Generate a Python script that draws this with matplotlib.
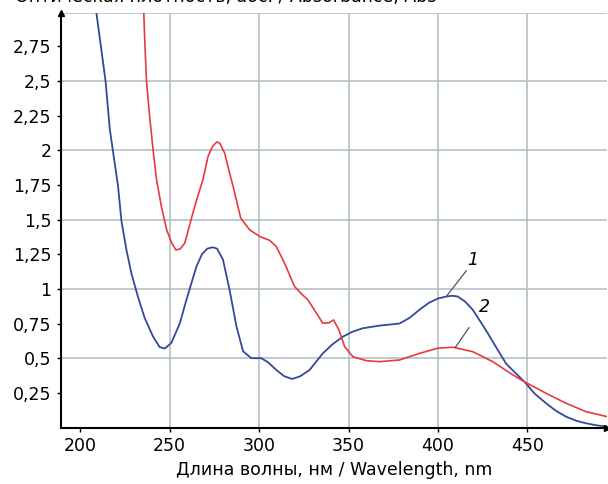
import matplotlib
matplotlib.use("Agg")
import matplotlib.pyplot as plt
from matplotlib.ticker import FuncFormatter

plt.rcParams['font.family'] = ['DejaVu Sans']
plt.rcParams['font.size'] = 12

# Curve 1 (blue)
wl_1 = [208, 209, 211.5, 214.1, 216.5, 218.3, 221.1, 223, 225.8, 228.6, 232.3, 236, 240.7,
        244.4, 247.2, 250.9, 255.6, 259.3, 264.9, 268, 271, 274, 276.5, 279.8, 283.5,
        287.3, 291, 295.6, 301.2, 305, 309.6, 314, 318.5, 323, 328.2, 335.6, 341, 346.8,
        352, 358, 367.3, 378.5, 384, 389.7, 395, 399.9, 404.6, 408, 411, 415, 419.4,
        426.9, 432, 438.1, 448.3, 454, 460.4, 466, 471.6, 477, 482.8, 489, 494.7]
abs_1 = [3.1, 2.99, 2.75, 2.5, 2.15, 1.99, 1.74, 1.49, 1.28, 1.11, 0.94, 0.79, 0.655,
         0.58, 0.57, 0.61, 0.75, 0.92, 1.16, 1.25, 1.29, 1.30, 1.29, 1.21, 0.99, 0.73,
         0.55, 0.50, 0.50, 0.47, 0.415, 0.37, 0.35, 0.37, 0.415, 0.535, 0.60, 0.655,
         0.69, 0.716, 0.735, 0.75, 0.79, 0.85, 0.90, 0.93, 0.945, 0.95, 0.945, 0.91, 0.85,
         0.70, 0.59, 0.46, 0.33, 0.245, 0.175, 0.12, 0.078, 0.05, 0.03, 0.015, 0.006]

# Curve 2 (red)
wl_2 = [235, 235.5, 236, 237, 238.8, 240.7, 242.6, 245.4, 248.2, 251.1, 253.5, 256, 258.4,
        263, 265, 268.6, 271.4, 274, 276.4, 278, 280.7, 283, 285.4, 289.7, 294.7, 300.3,
        305.9, 309.6, 314.2, 319.8, 324, 327.3, 332, 335.6, 339, 341.6, 344.6, 347.8,
        352.4, 359.9, 367.3, 378.5, 389.7, 399.9, 408.3, 419.4, 430.6, 441.8, 448.3,
        460.4, 471.6, 482.8, 494.7]
abs_2 = [3.1, 2.99, 2.80, 2.5, 2.24, 2.0, 1.79, 1.59, 1.43, 1.33, 1.28, 1.29, 1.33, 1.55,
         1.64, 1.79, 1.955, 2.03, 2.06, 2.05, 1.98, 1.86, 1.74, 1.51, 1.426, 1.378, 1.35,
         1.305, 1.185, 1.017, 0.96, 0.92, 0.825, 0.752, 0.755, 0.776, 0.704, 0.583, 0.511,
         0.482, 0.475, 0.487, 0.535, 0.572, 0.579, 0.547, 0.475, 0.38, 0.33, 0.247, 0.175,
         0.114, 0.078]

x_ticks = [200, 250, 300, 350, 400, 450]
y_ticks = [0.25, 0.5, 0.75, 1, 1.25, 1.5, 1.75, 2, 2.25, 2.5, 2.75]
y_label = "Оптическая плотность, абс. / Absorbance, Abs"
x_label = "Длина волны, нм / Wavelength, nm"

grid_col = "#b4c1c8"

fig = plt.figure(figsize=(6.08, 4.84), dpi=100)
ax = fig.add_axes([61 / 608, 1 - 427.5 / 484, 546 / 608, (427.5 - 13) / 484])

ax.plot(wl_1, abs_1, color="#34489c", lw=1.3, zorder=3)
ax.plot(wl_2, abs_2, color="#e8393f", lw=1.2, zorder=3)

ax.set_xlim(189.2, 494.5)
ax.set_ylim(0, 2.99)

# Grid: vertical every 50 nm from 250, horizontal every 0.5
for x in x_ticks[1:]:
    ax.axvline(x, color=grid_col, lw=1.2, zorder=1)
for y in [0.5, 1, 1.5, 2, 2.5, 2.99]:
    ax.axhline(y, color=grid_col, lw=1.2, zorder=1)

ax.set_xticks(x_ticks)
ax.set_yticks(y_ticks)
ax.yaxis.set_major_formatter(FuncFormatter(lambda v, p: ("%g" % v).replace(".", ",")))
ax.tick_params(direction="out", length=3, width=1, labelsize=12.5, pad=4)

for s in ["top", "right"]:
    ax.spines[s].set_visible(False)
for s in ["left", "bottom"]:
    ax.spines[s].set_linewidth(1.5)

# axis arrows
ax.plot(0, 1, marker="^", color="black", ms=5, transform=ax.transAxes, clip_on=False, zorder=5)
ax.plot(1, 0, marker=">", color="black", ms=5, transform=ax.transAxes, clip_on=False, zorder=5)

# curve labels with leader lines
ax.plot([404.6, 415.8], [0.945, 1.13], color="#555555", lw=0.9, zorder=4)
ax.text(419.4, 1.21, "1", fontsize=12.5, style="italic", ha="center", va="center")
ax.plot([409.8, 417.3], [0.58, 0.72], color="#555555", lw=0.9, zorder=4)
ax.text(426, 0.87, "2", fontsize=12.5, style="italic", ha="center", va="center")

ax.set_xlabel(x_label, fontsize=12.5, labelpad=4)
fig.text(15 / 608, 1 - 1.5 / 484, y_label, fontsize=12.5, ha="left", va="baseline")

fig.savefig("out.png", dpi=100)
